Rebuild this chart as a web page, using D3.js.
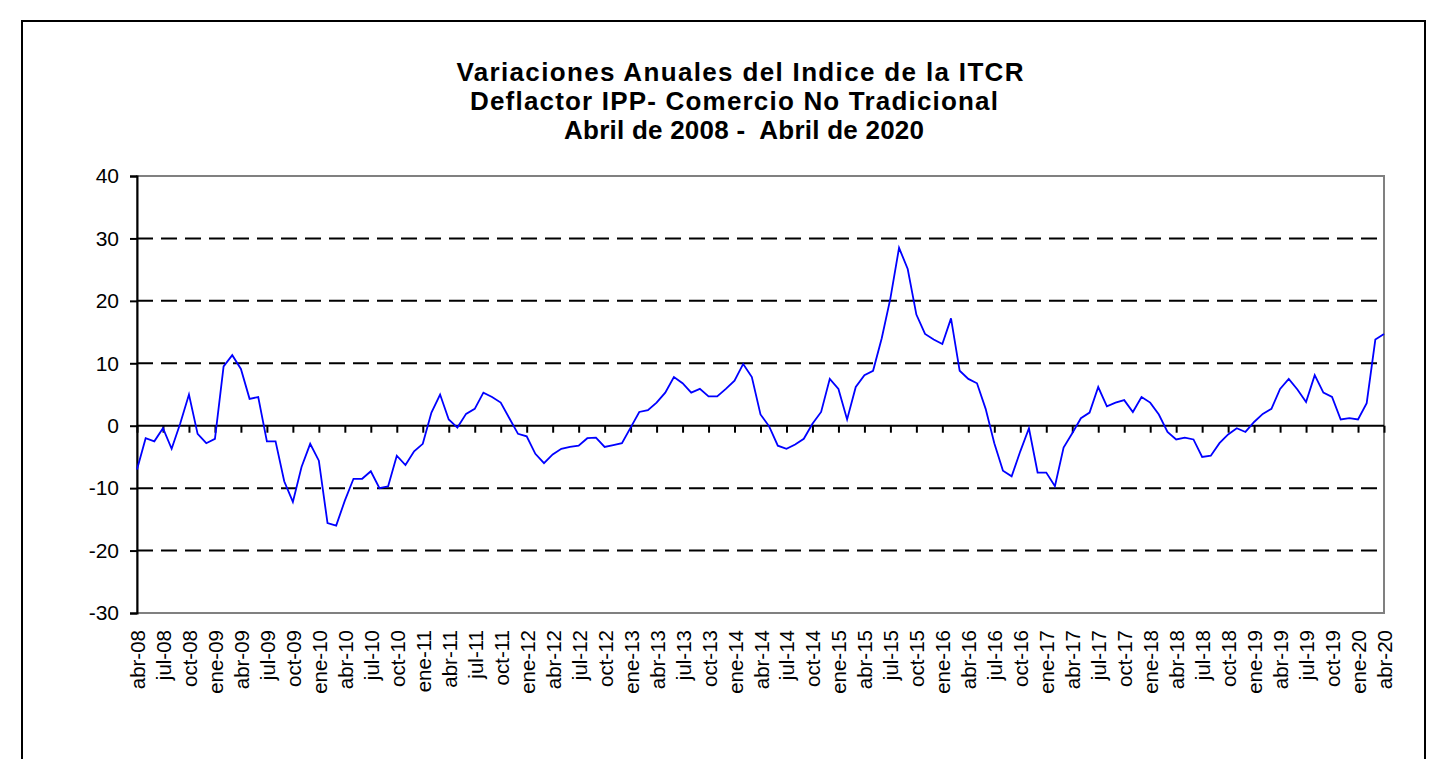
<!DOCTYPE html>
<html>
<head>
<meta charset="utf-8">
<script src="https://cdn.jsdelivr.net/npm/d3@7"></script>
<style>
  body { margin: 0; background: #fff; }
  svg { display: block; font-family: "Liberation Sans", Arial, sans-serif; }
</style>
</head>
<body>
<div id="chart"></div>
<script>
// titles
var titleLines = [
    "Variaciones Anuales del Indice de la ITCR",
    "Deflactor IPP- Comercio No Tradicional",
    "Abril de 2008 -  Abril de 2020"
];

// month names used for category labels (starting abr-08)
var monthNames = ["ene", "feb", "mar", "abr", "may", "jun", "jul", "ago", "sep", "oct", "nov", "dic"];

// annual variation, monthly, abr-08 .. abr-20
var values = [
    -7.0, -2.0, -2.5, -0.4, -3.7, 0.4, 5.0, -1.3, -2.8, -2.1, 9.5, 11.3,
    9.1, 4.3, 4.6, -2.5, -2.5, -8.9, -12.2, -6.6, -2.9, -5.6, -15.6, -16.0,
    -12.0, -8.5, -8.5, -7.3, -10.0, -9.7, -4.8, -6.3, -4.1, -2.9, 2.1, 5.0,
    1.0, -0.3, 1.9, 2.7, 5.3, 4.6, 3.7, 1.2, -1.3, -1.7, -4.5, -6.0,
    -4.6, -3.7, -3.4, -3.2, -2.0, -1.9, -3.4, -3.1, -2.8, -0.3, 2.2, 2.5,
    3.7, 5.3, 7.8, 6.8, 5.3, 5.9, 4.7, 4.7, 5.9, 7.2, 9.9, 7.8,
    1.8, -0.1, -3.2, -3.7, -3.0, -2.1, 0.3, 2.2, 7.5, 5.9, 1.0, 6.2,
    8.1, 8.8, 14.0, 20.4, 28.5, 25.1, 17.8, 14.7, 13.8, 13.1, 17.2, 8.8,
    7.5, 6.8, 2.7, -2.8, -7.2, -8.1, -4.1, -0.4, -7.5, -7.5, -9.7, -3.5,
    -1.2, 1.2, 2.1, 6.2, 3.1, 3.7, 4.1, 2.2, 4.6, 3.7, 1.8, -1.0,
    -2.2, -1.9, -2.2, -5.0, -4.8, -2.8, -1.4, -0.4, -1.0, 0.6, 1.9, 2.7,
    5.9, 7.5, 5.8, 3.8, 8.1, 5.3, 4.6, 1.0, 1.2, 1.0, 3.6, 13.8,
    14.7
];

// build category labels
var categories = values.map(function(v, i) {
    var m = (3 + i) % 12;
    var y = 8 + Math.floor((3 + i) / 12);
    return monthNames[m] + "-" + (y < 10 ? "0" + y : "" + y);
});

var yTicks = [40, 30, 20, 10, 0, -10, -20, -30];

var width = 1440, height = 759;
var plot = { left: 137, top: 176, right: 1384, bottom: 613 };

var svg = d3.select("#chart").append("svg")
    .attr("width", width)
    .attr("height", height);

// outer frame
svg.append("rect")
    .attr("x", 22).attr("y", 21)
    .attr("width", 1425 - 22).attr("height", 800)
    .style("fill", "none")
    .style("stroke", "#000")
    .style("stroke-width", 2);

var x = d3.scalePoint()
    .domain(categories)
    .range([plot.left, plot.right]);

var y = d3.scaleLinear()
    .domain([-30, 40])
    .range([plot.bottom, plot.top]);

// gridlines (dashed)
svg.append("g").selectAll("line")
    .data(yTicks.filter(function(d) { return d !== 0; }))
    .enter().append("line")
    .attr("x1", plot.left).attr("x2", plot.right)
    .attr("y1", function(d) { return y(d); })
    .attr("y2", function(d) { return y(d); })
    .style("stroke", "#000")
    .style("stroke-width", 2)
    .style("stroke-dasharray", "16,8");

// plot area border (gray)
svg.append("rect")
    .attr("x", plot.left).attr("y", plot.top)
    .attr("width", plot.right - plot.left)
    .attr("height", plot.bottom - plot.top)
    .style("fill", "none")
    .style("stroke", "#808080")
    .style("stroke-width", 2);

// y axis
var yAxis = d3.axisLeft(y).tickValues(yTicks).tickSize(7).tickPadding(11)
    .tickFormat(function(d) { return String(d); });
var gy = svg.append("g")
    .attr("transform", "translate(" + plot.left + ",0)")
    .call(yAxis);
gy.select(".domain").style("stroke", "#000").style("stroke-width", 2);
gy.selectAll(".tick line").style("stroke", "#000").style("stroke-width", 2);
gy.selectAll("text")
    .style("font-family", "'Liberation Sans', Arial, sans-serif")
    .style("font-size", "21px")
    .style("fill", "#000");

// x axis at zero
var xTickCats = categories.filter(function(d, i) { return i % 3 === 0; });
var xAxis = d3.axisBottom(x).tickValues(xTickCats).tickSize(7).tickFormat("");
var gx = svg.append("g")
    .attr("transform", "translate(0," + y(0) + ")")
    .call(xAxis);
gx.select(".domain").attr("d", "M" + plot.left + ",0H" + plot.right)
    .style("stroke", "#000").style("stroke-width", 2);
gx.selectAll(".tick line").style("stroke", "#000").style("stroke-width", 2);

// x labels under the plot, rotated
svg.append("g").selectAll("text")
    .data(xTickCats)
    .enter().append("text")
    .attr("transform", function(d) {
        return "translate(" + (x(d) + 8) + "," + (plot.bottom + 17) + ") rotate(-90)";
    })
    .attr("text-anchor", "end")
    .style("font-size", "20.5px")
    .style("fill", "#000")
    .text(function(d) { return d; });

// data line
var line = d3.line()
    .x(function(d, i) { return x(categories[i]); })
    .y(function(d) { return y(d); });

svg.append("path")
    .datum(values)
    .attr("d", line)
    .style("fill", "none")
    .style("stroke", "#0000ff")
    .style("stroke-width", 1.8);

// title
var titleCenters = [740, 734, 744];
var titleWidths = [567, 528, 360];
svg.append("g").selectAll("text")
    .data(titleLines)
    .enter().append("text")
    .attr("x", function(d, i) { return titleCenters[i]; })
    .attr("y", function(d, i) { return 81 + i * 29; })
    .attr("text-anchor", "middle")
    .attr("textLength", function(d, i) { return titleWidths[i]; })
    .attr("lengthAdjust", "spacing")
    .style("font-size", "26px")
    .style("font-weight", "bold")
    .style("white-space", "pre")
    .style("fill", "#000")
    .text(function(d) { return d; });
</script>
</body>
</html>
